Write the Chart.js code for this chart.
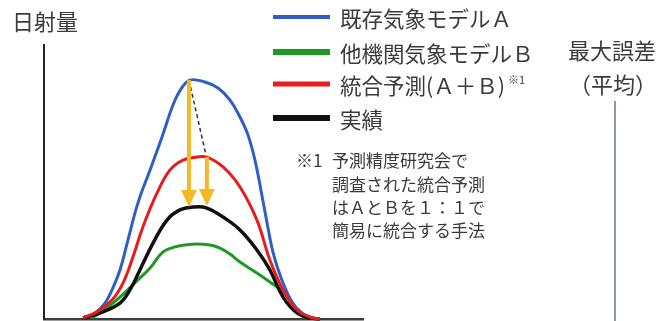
<!DOCTYPE html>
<html lang="ja">
<head>
<meta charset="utf-8">
<title>日射量</title>
<script src="https://cdn.jsdelivr.net/npm/chart.js@4.4.1/dist/chart.umd.min.js"></script>
<style>
  html, body { margin: 0; padding: 0; background: #ffffff; }
  #wrap { width: 665px; height: 321px; position: relative; }
</style>
</head>
<body>
<div id="wrap"><canvas id="c" width="665" height="321"></canvas></div>
<script>
// Time of day (hours) and relative solar radiation (0–1) for each curve
const modelA_x = [5.96, 6.56, 7.06, 7.41, 7.81, 8.21, 8.71, 9.32, 9.92, 10.47, 10.87, 11.32, 12.07, 12.73, 13.33, 13.83, 14.23, 14.58, 14.88, 15.18, 15.48, 15.89, 16.44, 16.99, 17.49];
const modelA_y = [0.004, 0.022, 0.058, 0.106, 0.179, 0.288, 0.423, 0.544, 0.664, 0.781, 0.839, 0.872, 0.865, 0.843, 0.799, 0.737, 0.672, 0.580, 0.471, 0.354, 0.245, 0.150, 0.062, 0.018, 0.004];

const modelB_x = [6.41, 6.96, 7.81, 8.66, 9.32, 9.97, 10.57, 11.07, 11.67, 12.32, 12.83, 13.33, 13.83, 14.68, 15.33, 15.99, 16.44, 16.79, 17.09];
const modelB_y = [0.004, 0.029, 0.080, 0.139, 0.186, 0.245, 0.263, 0.270, 0.274, 0.270, 0.259, 0.237, 0.208, 0.168, 0.135, 0.099, 0.058, 0.022, 0.004];

const blend_x = [5.96, 6.66, 7.41, 7.96, 8.46, 8.96, 9.67, 10.32, 10.97, 11.67, 12.17, 12.98, 13.83, 14.68, 15.33, 15.99, 16.69, 17.34, 17.84];
const blend_y = [0.004, 0.026, 0.069, 0.131, 0.226, 0.336, 0.460, 0.544, 0.580, 0.591, 0.591, 0.555, 0.482, 0.361, 0.215, 0.106, 0.033, 0.007, 0.0];

const actual_x = [5.96, 6.81, 7.81, 8.31, 8.81, 9.47, 10.17, 10.82, 11.57, 12.17, 12.98, 13.83, 14.68, 15.33, 15.99, 16.69, 17.34, 17.84];
const actual_y = [0.004, 0.022, 0.058, 0.106, 0.179, 0.277, 0.361, 0.398, 0.409, 0.405, 0.372, 0.325, 0.252, 0.179, 0.080, 0.022, 0.004, 0.0];

// Labels
const seriesLabels = ['既存気象モデルＡ', '他機関気象モデルＢ', '統合予測(Ａ＋Ｂ)', '実績'];
const axisTitle = '日射量';
const errorTitle = ['最大誤差', '（平均）'];
const noteMark = '※1';
const noteLines = ['予測精度研究会で', '調査された統合予測', 'はＡとＢを１：１で', '簡易に統合する手法'];

// Error arrows: [hour, from value, to value]
const errorArrows = [
  [11.27, 0.872, 0.409],
  [12.17, 0.591, 0.412]
];
// Dashed guide from model A peak down to the blended curve
const guideLine = [[11.27, 0.872], [12.12, 0.600]];

const colors = {
  a: '#2f5fc4',
  b: '#1e9a24',
  blend: '#e81c1c',
  actual: '#111111',
  arrow: '#f5b928',
  text: '#3a3a3a',
  axis: '#3c3c3c',
  marker: '#6b7390'
};

const FONT = '"Noto Sans CJK JP", "Noto Sans", sans-serif';

function pts(xs, ys) { return xs.map((x, i) => ({ x: x, y: ys[i] })); }

const overlay = {
  id: 'overlay',
  afterDatasetsDraw(chart) {
    const ctx = chart.ctx;
    const xs = chart.scales.x, ys = chart.scales.y;

    // dashed guide
    ctx.save();
    ctx.strokeStyle = '#333';
    ctx.lineWidth = 1.5;
    ctx.setLineDash([4, 3]);
    ctx.beginPath();
    ctx.moveTo(xs.getPixelForValue(guideLine[0][0]), ys.getPixelForValue(guideLine[0][1]));
    ctx.lineTo(xs.getPixelForValue(guideLine[1][0]), ys.getPixelForValue(guideLine[1][1]));
    ctx.stroke();
    ctx.restore();

    // arrows
    ctx.save();
    errorArrows.forEach(([h, v0, v1]) => {
      const x = xs.getPixelForValue(h);
      const y0 = ys.getPixelForValue(v0);
      const y1 = ys.getPixelForValue(v1);
      const headH = 17, headW = 8;
      ctx.strokeStyle = colors.arrow;
      ctx.fillStyle = colors.arrow;
      ctx.lineWidth = 4;
      ctx.beginPath();
      ctx.moveTo(x, y0);
      ctx.lineTo(x, y1 - headH + 2);
      ctx.stroke();
      ctx.beginPath();
      ctx.moveTo(x - headW, y1 - headH);
      ctx.lineTo(x + headW, y1 - headH);
      ctx.lineTo(x, y1);
      ctx.closePath();
      ctx.fill();
    });
    ctx.restore();
  },
  afterDraw(chart) {
    const ctx = chart.ctx;
    ctx.save();
    ctx.fillStyle = colors.text;
    ctx.textBaseline = 'middle';

    // vertical axis title
    ctx.font = '22px ' + FONT;
    ctx.textAlign = 'left';
    ctx.fillText(axisTitle, 12, 22);

    // legend
    const rows = [19, 54, 86, 120];
    chart.data.datasets.forEach((ds, i) => {
      ctx.strokeStyle = ds.borderColor;
      ctx.lineWidth = ds.legendWidth;
      ctx.beginPath();
      ctx.moveTo(273, rows[i] - 2);
      ctx.lineTo(330, rows[i] - 2);
      ctx.stroke();
      ctx.fillStyle = colors.text;
      ctx.font = '21.5px ' + FONT;
      ctx.fillText(ds.label, 340, rows[i]);
      if (i === 2) {
        const w = ctx.measureText(ds.label).width;
        ctx.font = '11px ' + FONT;
        ctx.fillText(noteMark, 340 + w + 3, rows[i] - 6);
      }
    });

    // error column heading
    ctx.font = '22px ' + FONT;
    ctx.textAlign = 'center';
    ctx.fillText(errorTitle[0], 612, 51);
    ctx.fillText(errorTitle[1], 613, 85);

    // marker line under heading
    ctx.strokeStyle = colors.marker;
    ctx.lineWidth = 1.5;
    ctx.beginPath();
    ctx.moveTo(615, 101);
    ctx.lineTo(615, 321);
    ctx.stroke();

    // footnote
    ctx.textAlign = 'left';
    ctx.font = '17px ' + FONT;
    ctx.fillText(noteMark, 296, 161);
    noteLines.forEach((t, i) => ctx.fillText(t, 332, 161 + i * 23.2));
    ctx.restore();
  }
};

const ds = (label, xs, ys, color, w, lw, order) => ({
  label: label,
  data: pts(xs, ys),
  borderColor: color,
  backgroundColor: color,
  borderWidth: w,
  legendWidth: lw,
  pointRadius: 0,
  fill: false,
  tension: 0.4,
  clip: false,
  order: order
});

new Chart(document.getElementById('c'), {
  type: 'line',
  data: {
    datasets: [
      ds(seriesLabels[0], modelA_x, modelA_y, colors.a, 3, 4, 3),
      ds(seriesLabels[1], modelB_x, modelB_y, colors.b, 3, 6, 4),
      ds(seriesLabels[2], blend_x, blend_y, colors.blend, 3, 5, 1),
      ds(seriesLabels[3], actual_x, actual_y, colors.actual, 3.5, 6, 2)
    ]
  },
  options: {
    responsive: false,
    devicePixelRatio: 1,
    animation: false,
    layout: { padding: { left: 44, right: 302, top: 45, bottom: 2 } },
    plugins: { legend: { display: false }, tooltip: { enabled: false } },
    scales: {
      x: {
        type: 'linear', min: 4, max: 20,
        grid: { display: false, drawTicks: false },
        ticks: { display: false },
        border: { display: true, color: colors.axis, width: 2.5 }
      },
      y: {
        type: 'linear', min: 0, max: 1,
        grid: { display: false, drawTicks: false },
        ticks: { display: false },
        border: { display: true, color: '#222', width: 2 }
      }
    }
  },
  plugins: [overlay]
});
</script>
</body>
</html>
